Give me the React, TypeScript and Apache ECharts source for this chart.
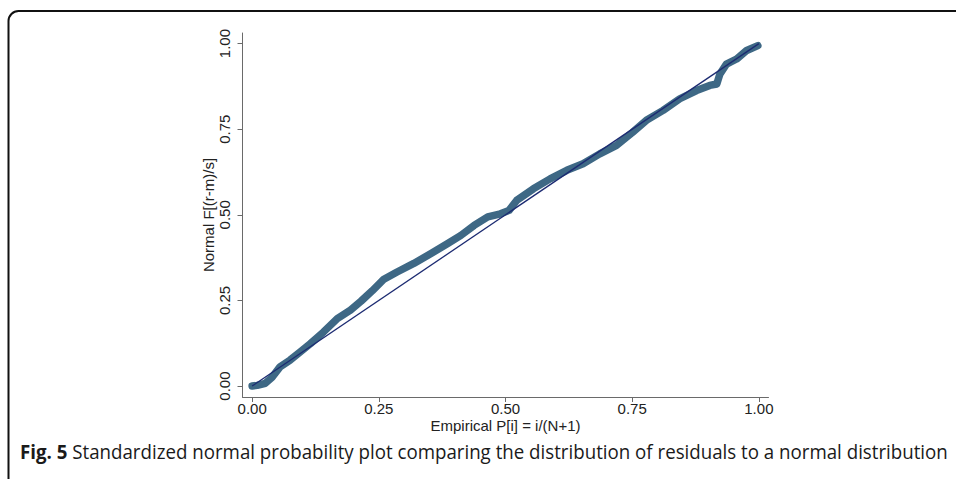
import React, { useEffect, useRef } from 'react';
import * as echarts from 'echarts';

// Empirical P[i] (x) and Normal F[(r-m)/s] (y)
const empiricalP = [
  0.0, 0.01, 0.026, 0.039, 0.055, 0.075, 0.095, 0.115, 0.141, 0.168, 0.194, 0.215,
  0.237, 0.26, 0.286, 0.319, 0.353, 0.386, 0.412, 0.438, 0.465, 0.49, 0.507, 0.522,
  0.555, 0.588, 0.621, 0.653, 0.686, 0.719, 0.75, 0.778, 0.811, 0.844, 0.877, 0.903,
  0.917, 0.923, 0.936, 0.956, 0.976, 0.998,
];
const normalF = [
  0.0, 0.002, 0.008, 0.025, 0.056, 0.076, 0.1, 0.124, 0.158, 0.197, 0.222, 0.248,
  0.278, 0.312, 0.333, 0.358, 0.387, 0.416, 0.44, 0.469, 0.494, 0.503, 0.513, 0.542,
  0.576, 0.605, 0.63, 0.649, 0.678, 0.703, 0.74, 0.776, 0.805, 0.839, 0.863, 0.878,
  0.882, 0.911, 0.94, 0.955, 0.98, 0.994,
];
const refLineX = [0, 1];
const refLineY = [0, 1];
const tickValues = [0, 0.25, 0.5, 0.75, 1];
const xAxisTitle = 'Empirical P[i] = i/(N+1)';
const yAxisTitle = 'Normal F[(r-m)/s]';
const captionBold = 'Fig. 5';
const captionText =
  'Standardized normal probability plot comparing the distribution of residuals to a normal distribution';

export default function App() {
  const ref = useRef<HTMLDivElement>(null);
  useEffect(() => {
    if (!ref.current) return;
    const chart = echarts.init(ref.current, null, { renderer: 'svg' });
    const capFont = "'Open Sans', sans-serif";
    const capSize = 20;
    const ctx = document.createElement('canvas').getContext('2d')!;
    ctx.font = `bold ${capSize}px ${capFont}`;
    const wb = ctx.measureText(captionBold).width;
    ctx.font = `${capSize}px ${capFont}`;
    const wr = ctx.measureText(' ' + captionText).width;
    const capScale = 928 / (wb + wr);

    const axisColor = '#6a6a6a';
    const labelColor = '#222';
    const font = "'Liberation Sans', Arial, sans-serif";

    chart.setOption({
      animation: false,
      backgroundColor: '#fff',
      grid: { left: 242.5, right: 187.5, top: 33, bottom: 82, containLabel: false },
      xAxis: {
        type: 'value',
        min: -0.019,
        max: 1.019,
        name: xAxisTitle,
        nameLocation: 'middle',
        nameGap: 21,
        nameMoveOverlap: false,
        nameTextStyle: { fontFamily: font, fontSize: 15, lineHeight: 15, color: labelColor },
        axisLine: { show: true, onZero: false, lineStyle: { color: axisColor, width: 1 } },
        axisTick: { show: true, length: 5, customValues: tickValues, lineStyle: { color: axisColor } },
        axisLabel: {
          customValues: tickValues,
          formatter: (v: number) => v.toFixed(2),
          fontFamily: font,
          fontSize: 15,
          lineHeight: 15,
          color: labelColor,
          margin: 4,
        },
        splitLine: { show: false },
      },
      yAxis: {
        type: 'value',
        min: -0.032,
        max: 1.031,
        name: yAxisTitle,
        nameLocation: 'middle',
        nameGap: 27,
        nameMoveOverlap: false,
        nameTextStyle: { fontFamily: font, fontSize: 15, color: labelColor },
        axisLine: { show: true, onZero: false, lineStyle: { color: axisColor, width: 1 } },
        axisTick: { show: true, length: 5, customValues: tickValues, lineStyle: { color: axisColor } },
        axisLabel: {
          customValues: tickValues,
          formatter: (v: number) => v.toFixed(2),
          fontFamily: font,
          fontSize: 15,
          color: labelColor,
          rotate: 90,
          margin: 11,
        },
        splitLine: { show: false },
      },
      series: [
        {
          type: 'line',
          data: empiricalP.map((u, i) => [u, normalF[i]]),
          showSymbol: false,
          symbol: 'none',
          lineStyle: { color: '#3e6885', width: 7.5, cap: 'round', join: 'round' },
          z: 2,
        },
        {
          type: 'line',
          data: refLineX.map((u, i) => [u, refLineY[i]]),
          showSymbol: false,
          symbol: 'none',
          lineStyle: { color: '#1c2b72', width: 1.3 },
          z: 3,
        },
      ],
      graphic: [
        {
          type: 'rect',
          shape: { x: 8.5, y: 11, width: 1100, height: 700, r: 10 },
          style: { fill: 'none', stroke: '#111', lineWidth: 2 },
          silent: true,
        },
        {
          type: 'text',
          x: 20,
          y: 451,
          scaleX: capScale,
          style: {
            text: `{b|${captionBold}}{n| ${captionText}}`,
            verticalAlign: 'middle',
            rich: {
              b: { fontFamily: capFont, fontSize: capSize, fontWeight: 'bold', fill: '#1a1a1a' },
              n: { fontFamily: capFont, fontSize: capSize, fill: '#1a1a1a' },
            },
          },
        },
      ],
    });
    return () => chart.dispose();
  }, []);
  return (
    <div
      ref={ref}
      style={{ position: 'absolute', left: 0, top: 0, width: 956, height: 479 }}
    />
  );
}
